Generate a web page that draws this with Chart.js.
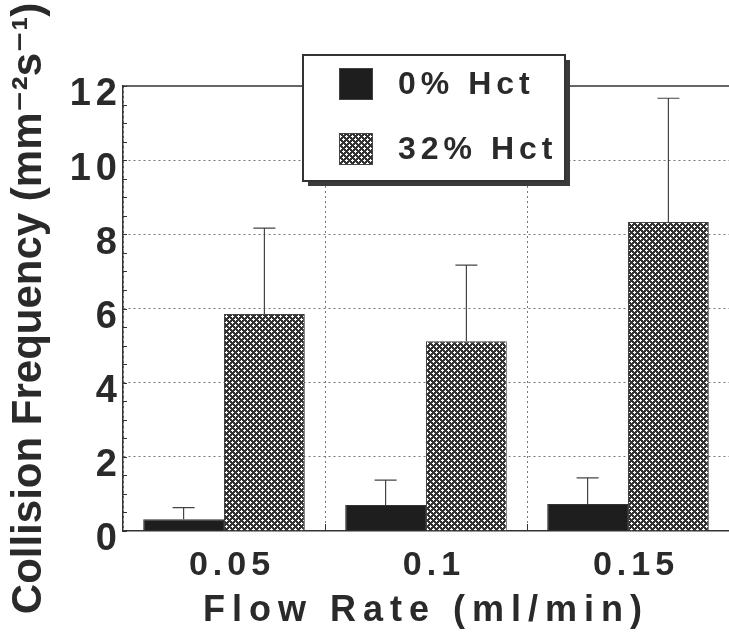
<!DOCTYPE html>
<html>
<head>
<meta charset="utf-8">
<script src="https://cdn.jsdelivr.net/npm/chart.js@4.4.0/dist/chart.umd.min.js"></script>
<style>
  html, body { margin: 0; padding: 0; background: #fff; }
</style>
</head>
<body>
<canvas id="collisionChart" width="729" height="635"></canvas>
<script>
// Data
const flowRates = ["0.05", "0.1", "0.15"];
const hct0Values = [0.32, 0.7, 0.73];
const hct0ErrTop = [0.63, 1.37, 1.43];
const hct32Values = [5.85, 5.12, 8.33];
const hct32ErrTop = [8.17, 7.17, 11.67];
const yMax = 12;
const yStep = 2;

const FONT = "'Liberation Sans', Arial, 'DejaVu Sans', sans-serif";
const INK = "#2a2a2a";

// Cross-hatch fill used for the 32% Hct bars
function makeCrossHatch(ctx) {
  const tile = document.createElement("canvas");
  tile.width = 6;
  tile.height = 6;
  const t = tile.getContext("2d");
  t.fillStyle = "#333";
  t.fillRect(0, 0, 6, 6);
  t.fillStyle = "#fff";
  t.fillRect(1, 0, 1, 3);
  t.fillRect(0, 1, 3, 1);
  t.fillRect(4, 3, 1, 3);
  t.fillRect(3, 4, 3, 1);
  return ctx.createPattern(tile, "repeat");
}

// The original type is set with wide tracking; titles get their own
const titleSpacing = { x: "7px", y: "0px" };
const spacingPlugin = {
  id: "spacing",
  beforeUpdate(chart) { chart.ctx.letterSpacing = "5px"; },
  beforeDraw(chart) {
    chart.ctx.letterSpacing = "5px";
    Object.keys(titleSpacing).forEach((id) => {
      const s = chart.scales[id];
      if (!s || s._trackPatched || typeof s.drawTitle !== "function") return;
      const orig = s.drawTitle;
      s.drawTitle = function () {
        const prev = this.ctx.letterSpacing;
        this.ctx.letterSpacing = titleSpacing[id];
        orig.apply(this, arguments);
        this.ctx.letterSpacing = prev;
      };
      s._trackPatched = true;
    });
  }
};

// Error bars, inner ticks, top frame line, legend box
const decorPlugin = {
  id: "decor",
  afterDatasetsDraw(chart) {
    const ctx = chart.ctx;
    const y = chart.scales.y;
    const x = chart.scales.x;
    const area = chart.chartArea;
    ctx.save();

    // error bars (upper only)
    ctx.strokeStyle = "#444";
    ctx.lineWidth = 1.2;
    chart.data.datasets.forEach((ds, di) => {
      chart.getDatasetMeta(di).data.forEach((bar, i) => {
        const yTop = y.getPixelForValue(ds.errTop[i]);
        ctx.beginPath();
        ctx.moveTo(bar.x, bar.y);
        ctx.lineTo(bar.x, yTop);
        ctx.moveTo(bar.x - 11, yTop);
        ctx.lineTo(bar.x + 11, yTop);
        ctx.stroke();
      });
    });

    // minor ticks on the y axis, pointing inward
    ctx.strokeStyle = "#333";
    ctx.lineWidth = 1;
    for (let v = 0; v <= yMax; v += 0.5) {
      const py = Math.round(y.getPixelForValue(v)) + 0.5;
      ctx.beginPath();
      ctx.moveTo(area.left, py);
      ctx.lineTo(area.left + 4, py);
      ctx.stroke();
    }

    // small ticks at category boundaries on the x axis
    for (let i = 0; i < flowRates.length - 1; i++) {
      const px = Math.round((x.getPixelForValue(i) + x.getPixelForValue(i + 1)) / 2) + 0.5;
      ctx.beginPath();
      ctx.moveTo(px, area.bottom);
      ctx.lineTo(px, area.bottom - 7);
      ctx.stroke();
    }

    // top frame line
    ctx.lineWidth = 1.5;
    ctx.beginPath();
    ctx.moveTo(area.left, area.top);
    ctx.lineTo(area.right, area.top);
    ctx.stroke();
    ctx.restore();
  },
  afterDraw(chart) {
    const ctx = chart.ctx;
    const area = chart.chartArea;
    const bx = area.left + 180;
    const by = area.top - 31;
    const bw = 262;
    const bh = 126;
    ctx.save();
    ctx.fillStyle = "#3a3a3a";
    ctx.fillRect(bx + 5, by + 5, bw, bh);
    ctx.fillStyle = "#fff";
    ctx.fillRect(bx, by, bw, bh);
    ctx.strokeStyle = "#333";
    ctx.lineWidth = 2;
    ctx.strokeRect(bx, by, bw, bh);
    ctx.font = "bold 32px " + FONT;
    ctx.letterSpacing = "5px";
    ctx.textBaseline = "middle";
    chart.data.datasets.forEach((ds, i) => {
      const sy = by + 13 + i * 65;
      ctx.fillStyle = ds.backgroundColor;
      ctx.fillRect(bx + 36, sy, 34, 32);
      ctx.strokeStyle = "#444";
      ctx.lineWidth = 1;
      ctx.strokeRect(bx + 36.5, sy + 0.5, 33, 31);
      ctx.fillStyle = INK;
      ctx.fillText(ds.label, bx + 95, sy + 17);
    });
    ctx.restore();
  }
};

const canvas = document.getElementById("collisionChart");
const ctx = canvas.getContext("2d");
const hatch = makeCrossHatch(ctx);

new Chart(ctx, {
  type: "bar",
  data: {
    labels: flowRates,
    datasets: [
      {
        label: "0% Hct",
        data: hct0Values,
        errTop: hct0ErrTop,
        backgroundColor: "#1e1e1e",
        borderColor: "#333",
        borderWidth: 1,
        categoryPercentage: 0.8,
        barPercentage: 1.0,
      },
      {
        label: "32% Hct",
        data: hct32Values,
        errTop: hct32ErrTop,
        backgroundColor: hatch,
        borderColor: "#444",
        borderWidth: 1,
        categoryPercentage: 0.8,
        barPercentage: 1.0,
      },
    ],
  },
  options: {
    responsive: false,
    animation: false,
    layout: { padding: { top: 86, right: 0, left: 0, bottom: 0 } },
    plugins: {
      legend: { display: false },
      tooltip: { enabled: false },
    },
    scales: {
      x: {
        afterFit(scale) { scale.height = 104; },
        grid: {
          offset: true,
          color: "#777",
          lineWidth: 1,
          drawTicks: false,
        },
        border: { display: true, color: "#333", width: 1.5, dash: [2, 3] },
        ticks: {
          color: INK,
          font: { family: FONT, size: 34, weight: "bold" },
          padding: 14,
          labelOffset: 8,
        },
        title: {
          display: true,
          text: "Flow Rate (ml/min)",
          color: INK,
          font: { family: FONT, size: 36, weight: "bold" },
          padding: { top: 0, bottom: 2 },
        },
      },
      y: {
        min: 0,
        max: yMax,
        afterFit(scale) { scale.width = 123; },
        grid: {
          color: (c) => (c.tick && c.tick.value > 0 && c.tick.value < yMax ? "#777" : "rgba(0,0,0,0)"),
          lineWidth: 1,
          drawTicks: false,
        },
        border: { display: true, color: "#333", width: 1.5, dash: [2, 3] },
        ticks: {
          stepSize: yStep,
          color: INK,
          font: { family: FONT, size: 38, weight: "bold" },
          padding: 1,
          labelOffset: 9,
        },
        title: {
          display: true,
          text: "Collision Frequency (mm\u207B\u00B2s\u207B\u00B9)",
          color: INK,
          font: { family: FONT, size: 42, weight: "bold" },
          padding: { top: 4, bottom: 0 },
        },
      },
    },
  },
  plugins: [spacingPlugin, decorPlugin],
});
</script>
</body>
</html>
